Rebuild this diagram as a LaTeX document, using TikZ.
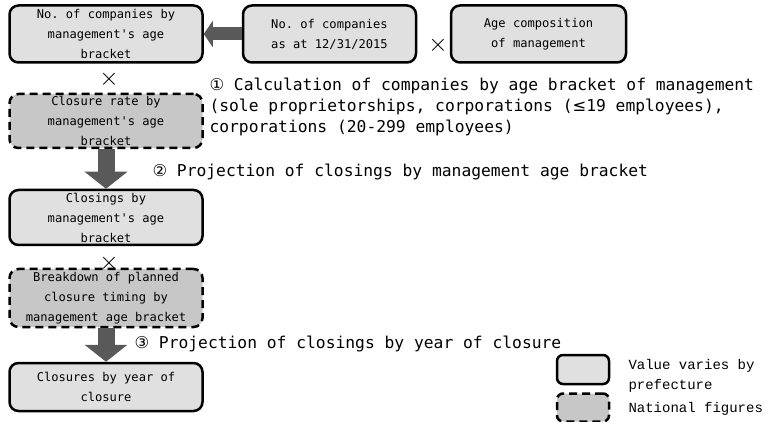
\documentclass[tikz,border=0pt]{standalone}
\usepackage{fontspec}
\usepackage{tikz}
\usetikzlibrary{positioning, arrows.meta}
\setmonofont{DejaVu Sans Mono}
\newfontfamily\symfont{DejaVu Sans}
\newfontfamily\legfont{Liberation Mono}

\tikzset{
    prefbox/.style={draw, line width=2.5pt, rounded corners=9pt, fill=black!12,
        minimum width=193pt, align=center, inner sep=1pt,
        font=\ttfamily\fontsize{12.1}{20}\selectfont},
    natbox/.style={prefbox, fill=black!22, dash pattern=on 8pt off 5pt},
    fatarrow/.style={draw=black!65, line width=13pt,
        -{Triangle[length=9pt, width=26pt]}},
    downarrow/.style={draw=black!65, line width=17pt,
        -{Triangle[length=17pt, width=42pt]}},
    steplabel/.style={anchor=west, align=left,
        font=\ttfamily\fontsize{16.3}{21}\selectfont},
    timesign/.style={font=\fontsize{24}{24}\selectfont, inner sep=0pt}
}

\begin{document}
\begin{tikzpicture}[x=1pt, y=-1pt]
    \useasboundingbox (0,0) rectangle (766,422);

    % Top row
    \node[prefbox, minimum height=57pt] (bymgmt) at (106,34)
        {No. of companies by\\management's age\\bracket};
    \node[prefbox, minimum width=173pt, minimum height=57pt] (total) at (329.5,34)
        {No. of companies\\as at 12/31/2015};
    \node[prefbox, minimum width=175pt, minimum height=57pt] (agecomp) at (538.5,34)
        {Age composition\\of management};
    \node[timesign] (x1) at (438,45) {$\times$};
    \draw[fatarrow] (total.west) -- (bymgmt.east);

    % Closure rate and closings
    \node[timesign] (x2) at (109,79) {$\times$};
    \node[natbox, minimum height=54pt] (rate) at (106,121)
        {Closure rate by\\management's age\\bracket};
    \node[prefbox, minimum height=55pt] (closings) at (106,217.5)
        {Closings by\\management's age\\bracket};
    \draw[downarrow] (rate.south) -- (closings.north);

    % Timing breakdown and closures by year
    \node[timesign] (x3) at (109,263) {$\times$};
    \node[natbox, minimum height=58pt] (timing) at (106,298)
        {Breakdown of planned\\closure timing by\\management age bracket};
    \node[prefbox, minimum height=48pt] (byyear) at (106,387)
        {Closures by year of\\closure};
    \draw[downarrow] (timing.south) -- (byyear.north);

    % Step labels
    \node[steplabel] (lbl1) at (206,107)
        {{\symfont ①} Calculation of companies by age bracket of management\\
         (sole proprietorships, corporations ({\symfont ≤}19 employees),\\
         corporations (20-299 employees)};
    \node[steplabel] (lbl2) at (149,172)
        {{\symfont ②} Projection of closings by management age bracket};
    \node[steplabel] (lbl3) at (131,344)
        {{\symfont ③} Projection of closings by year of closure};

    % Legend
    \node[prefbox, minimum width=52pt, minimum height=29pt, rounded corners=6pt] (legpref) at (583,369.5) {};
    \node[natbox, minimum width=52pt, minimum height=28pt, rounded corners=6pt] (legnat) at (583,407.5) {};
    \node[anchor=west, align=left, font=\legfont\fontsize{14}{20}\selectfont] (txtpref) at (625,376)
        {Value varies by\\prefecture};
    \node[anchor=west, font=\legfont\fontsize{14}{20}\selectfont] (txtnat) at (625,409)
        {National figures};
\end{tikzpicture}
\end{document}
